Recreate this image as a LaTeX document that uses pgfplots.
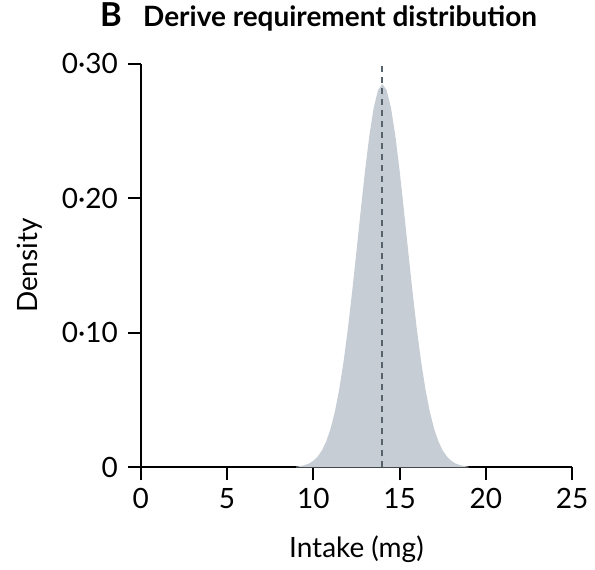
\documentclass[border=0pt]{standalone}
\usepackage{pgfplots}
\pgfplotsset{compat=1.18}
\usepackage{fontspec}
\setmainfont{Lato}
\definecolor{fillgray}{HTML}{C6CDD4}
\definecolor{dashgray}{HTML}{56626C}
\begin{document}
\begin{tikzpicture}
\begin{axis}[
  name=ax,
  scale only axis,
  width=216pt, height=202pt,
  xmin=0, xmax=25, ymin=0, ymax=0.30,
  axis lines=left,
  axis line style={-, line width=1pt, black},
  tick align=outside,
  major tick length=6.5pt,
  tick style={line width=1pt, black},
  xtick={0,5,10,15,20,25},
  xticklabels={0,5,10,15,20,25},
  ytick={0,0.10,0.20,0.30},
  yticklabels={0,0·10,0·20,0·30},
  tick label style={font=\fontsize{14}{16}\selectfont},
  xticklabel style={yshift=-0.5pt},
  yticklabel style={xshift=-1.5pt},
  xlabel={Intake (mg)},
  ylabel={Density},
  label style={font=\fontsize{14}{16}\selectfont},
  xlabel style={at={(axis description cs:0.5,0)}, anchor=center, yshift=-41pt},
  ylabel style={at={(axis description cs:-0.257,0.5)}, anchor=center},
  clip=false,
]
\addplot[draw=none, fill=fillgray] coordinates {
(9.0,0.0004) (9.25,0.0009) (9.5,0.0016) (9.75,0.0028) (10.0,0.0048)
(10.25,0.0079) (10.5,0.0125) (10.75,0.0193) (11.0,0.0287) (11.25,0.0414)
(11.5,0.0579) (11.75,0.0783) (12.0,0.1027) (12.25,0.1305) (12.5,0.1605)
(12.75,0.1913) (13.0,0.2208) (13.25,0.2469) (13.5,0.2674) (13.75,0.2805)
(14.0,0.2850)
(14.25,0.2805) (14.5,0.2674) (14.75,0.2469) (15.0,0.2208) (15.25,0.1913)
(15.5,0.1605) (15.75,0.1305) (16.0,0.1027) (16.25,0.0783) (16.5,0.0579)
(16.75,0.0414) (17.0,0.0287) (17.25,0.0193) (17.5,0.0125) (17.75,0.0079)
(18.0,0.0048) (18.25,0.0028) (18.5,0.0016) (18.75,0.0009) (19.0,0.0004)
} \closedcycle;
\addplot[dashgray, line width=1pt, dash pattern=on 3pt off 2.5pt] coordinates {(14,0) (14,0.30)};
\end{axis}
\path[use as bounding box] ([shift={(-70.5pt,-50.5pt)}]ax.south west) rectangle ([shift={(11pt,32pt)}]ax.north east);
\node[anchor=base west, inner sep=0pt, font=\fontsize{16.5}{18}\selectfont\bfseries] at ([shift={(-20.5pt,18.5pt)}]ax.north west) {B};
\node[anchor=base west, inner sep=0pt, font=\fontsize{14}{16}\selectfont\bfseries] at ([shift={(1pt,18.5pt)}]ax.north west) {Derive requirement distribution};
\end{tikzpicture}
\end{document}
